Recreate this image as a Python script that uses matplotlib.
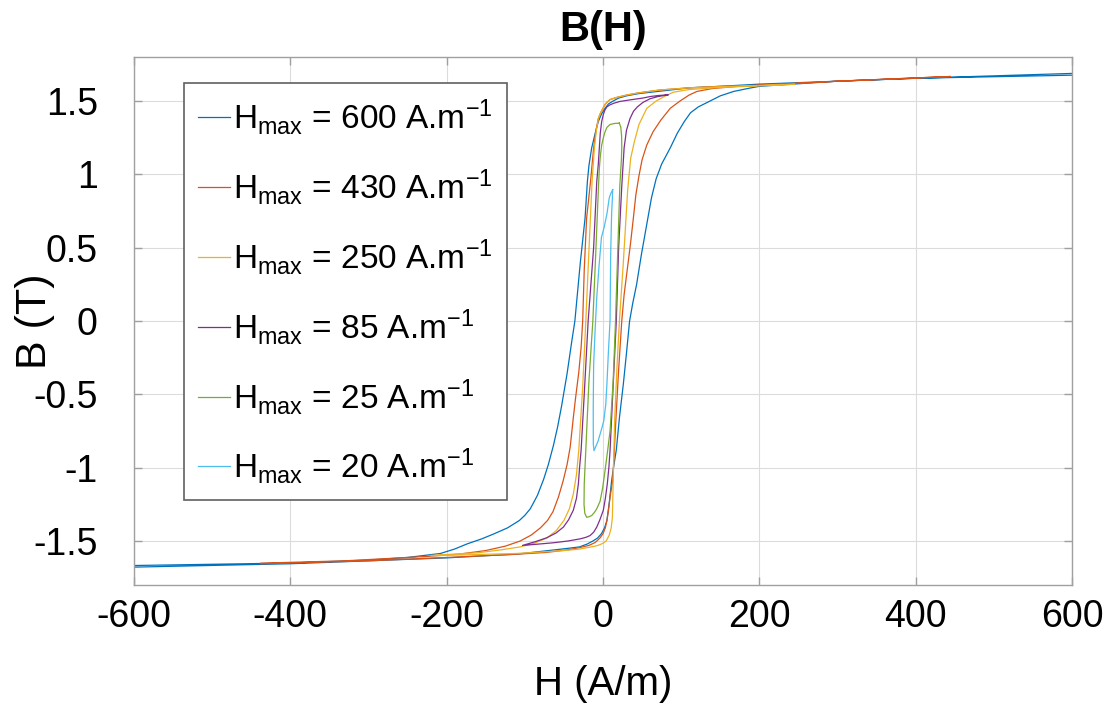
import matplotlib
matplotlib.use("Agg")
import matplotlib.pyplot as plt

plt.rcParams['font.family'] = ['Liberation Sans', 'DejaVu Sans']
plt.rcParams['axes.unicode_minus'] = False
plt.rcParams['mathtext.fontset'] = 'custom'
plt.rcParams['mathtext.rm'] = 'Liberation Sans'
plt.rcParams['mathtext.it'] = 'Liberation Sans'

# ---- data: each loop = descending branch + ascending branch (H in A/m, B in T)
h600_down = [615, 600, 400, 300, 200, 150, 111, 73, 45, 30, 20, 13, 7, 2.6, -2, -6, -10, -14.5, -18, -20,
             -23, -29, -36, -40, -46, -53, -58, -63.5, -70, -76, -84, -93, -100, -107, -122, -139, -155,
             -174, -190, -208, -250, -300, -400, -600, -615]
b600_down = [1.69, 1.688, 1.655, 1.635, 1.615, 1.60, 1.59, 1.567, 1.55, 1.535, 1.52, 1.50, 1.48, 1.45, 1.41,
             1.36, 1.28, 1.18, 1.06, 0.95, 0.70, 0.40, 0.0, -0.14, -0.36, -0.58, -0.72, -0.85, -0.98, -1.08,
             -1.19, -1.28, -1.325, -1.36, -1.41, -1.45, -1.485, -1.52, -1.555, -1.585, -1.612, -1.63, -1.65,
             -1.667, -1.67]
h600_up = [-615, -600, -400, -300, -200, -150, -111, -73, -45, -30, -20, -13, -7, -2, 2, 5, 8, 11, 14, 17,
           21, 26, 30, 34, 38, 43, 49, 56, 62, 68, 75, 86, 95, 104, 112, 122, 137, 150, 167, 185, 200,
           300, 400, 600, 615]
b600_up = [-1.69, -1.678, -1.655, -1.635, -1.615, -1.60, -1.59, -1.567, -1.55, -1.54, -1.52, -1.50, -1.48,
           -1.45, -1.41, -1.36, -1.24, -1.09, -0.98, -0.88, -0.66, -0.43, -0.22, 0.0, 0.12, 0.25, 0.45, 0.66,
           0.84, 0.97, 1.07, 1.18, 1.28, 1.36, 1.42, 1.46, 1.50, 1.535, 1.565, 1.585, 1.60, 1.635, 1.655,
           1.676, 1.69]

h430_down = [444, 300, 200, 150, 111, 73, 45, 30, 18, 9, 3, 0, -3, -6, -9, -12, -16, -21, -24, -26, -28,
             -31, -35, -38, -42, -46, -51, -57, -64, -71, -80, -92, -106, -125, -150, -185, -225, -330, -438]
b430_down = [1.667, 1.635, 1.607, 1.60, 1.59, 1.575, 1.555, 1.54, 1.525, 1.51, 1.48, 1.45, 1.42, 1.38, 1.30,
             1.18, 0.95, 0.70, 0.35, 0.0, -0.18, -0.35, -0.52, -0.66, -0.86, -0.98, -1.09, -1.20, -1.30,
             -1.36, -1.41, -1.46, -1.50, -1.535, -1.565, -1.59, -1.605, -1.635, -1.651]
h430_up = [-438, -300, -200, -150, -111, -73, -45, -30, -18, -10, -4, 0, 3, 5, 7, 9, 12.4, 14.5, 16.6, 20,
           24, 27, 31, 35, 38.8, 42, 46, 50, 56, 64, 74, 86, 98.5, 110, 120, 140, 173, 300, 444]
b430_up = [-1.655, -1.635, -1.612, -1.60, -1.59, -1.578, -1.56, -1.545, -1.53, -1.51, -1.48, -1.45, -1.41,
           -1.36, -1.29, -1.20, -1.09, -0.88, -0.66, -0.33, 0.0, 0.18, 0.35, 0.52, 0.70, 0.86, 0.99, 1.10,
           1.20, 1.29, 1.37, 1.45, 1.50, 1.54, 1.565, 1.585, 1.60, 1.635, 1.667]

h250_down = [245, 200, 150, 111, 73, 45, 30, 18, 9, 3, 0, -3, -6, -8.5, -11, -14, -17, -22, -26, -31, -34,
             -38, -43, -50, -60, -72, -88, -106, -130, -160, -220]
b250_down = [1.614, 1.605, 1.598, 1.59, 1.575, 1.555, 1.54, 1.525, 1.51, 1.48, 1.45, 1.42, 1.38, 1.30, 1.18,
             0.95, 0.60, 0.0, -0.45, -0.88, -1.05, -1.18, -1.28, -1.36, -1.43, -1.48, -1.515, -1.54, -1.56,
             -1.58, -1.598]
h250_up = [-220, -160, -111, -80, -50, -30, -20, -10, -4, 0, 4, 8, 10.5, 12, 13, 15, 18, 21, 26, 29.4,
           31.5, 35.4, 40, 46, 56, 68, 80, 90, 110, 142, 200, 245]
b250_up = [-1.60, -1.592, -1.585, -1.575, -1.565, -1.555, -1.545, -1.535, -1.525, -1.515, -1.50, -1.46,
           -1.41, -1.34, -1.09, -0.66, -0.30, 0.0, 0.40, 0.70, 0.89, 1.11, 1.22, 1.34, 1.45, 1.50, 1.535,
           1.56, 1.578, 1.59, 1.605, 1.614]

h85_down = [83, 70, 60, 51, 35, 21.7, 14, 9, 5, 2.6, 0.5, -1.7, -3.5, -4.7, -6, -8, -12, -19, -24, -28,
            -30, -31.5, -34, -38, -44, -50.7, -60, -72, -87, -103]
b85_down = [1.542, 1.537, 1.53, 1.52, 1.508, 1.497, 1.485, 1.474, 1.46, 1.44, 1.41, 1.36, 1.28, 1.18, 1.07,
            0.95, 0.50, 0.0, -0.50, -0.88, -1.00, -1.11, -1.21, -1.29, -1.355, -1.405, -1.445, -1.478,
            -1.505, -1.53]
h85_up = [-103, -85, -63.5, -45, -29, -22, -16.6, -12, -8, -4, 0.4, 3, 5.5, 7.5, 9, 13, 17, 20, 24, 27, 30,
          34.5, 39, 44, 51, 60, 70, 83]
b85_up = [-1.53, -1.522, -1.512, -1.50, -1.485, -1.475, -1.463, -1.44, -1.405, -1.355, -1.29, -1.21, -1.11,
          -1.00, -0.884, -0.44, 0.0, 0.50, 0.92, 1.18, 1.30, 1.38, 1.43, 1.46, 1.49, 1.515, 1.53, 1.542]

h25_down = [20.9, 15, 9, 5, 2.6, 0.5, -1.7, -3.5, -4.7, -6, -9, -13, -18, -22, -24, -24.3, -23.3, -21]
b25_down = [1.349, 1.347, 1.34, 1.32, 1.29, 1.25, 1.20, 1.12, 1.04, 0.89, 0.50, 0.0, -0.41, -0.88, -1.11,
            -1.25, -1.31, -1.338]
h25_up = [-21, -18, -14.5, -11, -8, -3.8, -0.5, 2.6, 6, 9, 13, 16, 19, 21.5, 23.5, 24, 23.8, 22.8, 20.9]
b25_up = [-1.338, -1.335, -1.326, -1.305, -1.28, -1.23, -1.14, -1.02, -0.88, -0.75, -0.41, 0.0, 0.50, 0.92,
          1.10, 1.18, 1.26, 1.32, 1.349]

h20_down = [12.4, 10, 8, 5, 1.5, -2, -5, -8, -10, -12, -12.5, -12.4, -11.5]
b20_down = [0.896, 0.87, 0.84, 0.73, 0.64, 0.57, 0.38, 0.16, -0.05, -0.30, -0.60, -0.84, -0.884]
h20_up = [-11.5, -6.4, -2, 1, 3.5, 5, 7, 9, 9.8, 11, 12, 12.4]
b20_up = [-0.884, -0.82, -0.74, -0.68, -0.57, -0.43, -0.20, 0.0, 0.45, 0.73, 0.84, 0.896]

hmax_labels = ["600", "430", "250", "85", "25", "20"]
colors = ["#0072BD", "#D95319", "#EDB120", "#7E2F8E", "#77AC30", "#4DBEEE"]
loops = [
    (h600_down + h600_up, b600_down + b600_up),
    (h430_down + h430_up, b430_down + b430_up),
    (h250_down + h250_up, b250_down + b250_up),
    (h85_down + h85_up, b85_down + b85_up),
    (h25_down + h25_up, b25_down + b25_up),
    (h20_down + h20_up, b20_down + b20_up),
]

fig = plt.figure(figsize=(11.1, 7.08), dpi=100)
ax = fig.add_axes([0.1207, 0.1737, 0.8451, 0.7458])

for (hh, bb), hmax, col in zip(loops, hmax_labels, colors):
    ax.plot(hh, bb, color=col, lw=0.9,
            label=r"H$_{\mathrm{max}}$ = " + hmax + r" A.m$^{\mathrm{-1}}$")

ax.set_xlim(-600, 600)
ax.set_ylim(-1.8, 1.8)
ax.set_xticks([-600, -400, -200, 0, 200, 400, 600])
ax.set_yticks([-1.5, -1, -0.5, 0, 0.5, 1, 1.5])
ax.set_yticklabels(["-1.5", "-1", "-0.5", "0", "0.5", "1", "1.5"])
ax.grid(True, color="#dcdcdc", lw=0.8)
ax.set_axisbelow(True)
for s in ax.spines.values():
    s.set_color("#a0a0a0")
    s.set_linewidth(1.0)
ax.tick_params(direction="in", length=6, width=1, color="#a0a0a0", labelsize=27,
               top=True, right=True)
ax.tick_params(axis="x", pad=10)
ax.tick_params(axis="y", pad=26)

ax.set_xlabel("H (A/m)", fontsize=29)
ax.xaxis.set_label_coords(0.5, -0.1875)
ax.xaxis.label.set_verticalalignment("center")
ax.set_ylabel("B (T)", fontsize=31)
ax.yaxis.set_label_coords(-0.105, 0.5)
ax.yaxis.label.set_verticalalignment("center")
ax.set_title("B(H)", fontsize=30, fontweight="bold", y=1.051, pad=0, va="center")

leg = ax.legend(loc="upper left", bbox_to_anchor=(184 / 1110, 1 - 83 / 708),
                bbox_transform=fig.transFigure, borderaxespad=0, fontsize=24,
                handlelength=0.95, handletextpad=0.1, labelspacing=0.9,
                borderpad=0.42, fancybox=False, framealpha=1)
leg.get_frame().set_edgecolor("#606060")
leg.get_frame().set_linewidth(1.2)

fig.savefig("out.png", dpi=100)
